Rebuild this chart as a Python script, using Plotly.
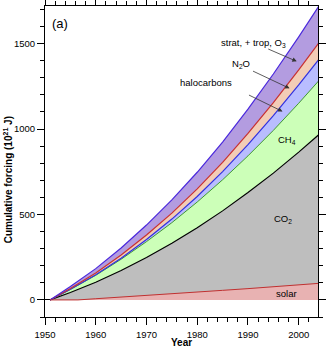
import plotly.graph_objects as go

# Cumulative forcing (10^21 J), stacked components
years = [1951, 1955, 1960, 1965, 1970, 1975, 1980, 1985, 1990, 1995, 2000, 2004]
co2 = [0, 43, 103, 172, 248, 331, 422, 521, 628, 742, 865, 968]
ch4 = [0, 18, 41, 66, 93, 121, 151, 182, 215, 250, 286, 316]
halocarbons = [0, 1, 3, 6, 12, 21, 32, 48, 66, 87, 107, 124]
n2o = [0, 5, 11, 19, 27, 35, 45, 54, 65, 76, 88, 98]
ozone = [0, 11, 25, 41, 58, 77, 97, 119, 142, 167, 193, 215]

solar_years = [1951, 1956.5, 1960, 1965, 1970, 1975, 1980, 1985, 1990, 1995, 2000, 2004]
solar = [0, 0, 7, 16, 26, 35, 45, 56, 66, 76, 87, 97]

x_ticks = [1950, 1960, 1970, 1980, 1990, 2000]
y_ticks = [0, 500, 1000, 1500]


def cumsum_layers(*layers):
    out, run = [], [0] * len(layers[0])
    for layer in layers:
        run = [a + b for a, b in zip(run, layer)]
        out.append(run)
    return out


top_co2, top_ch4, top_halo, top_n2o, top_o3 = cumsum_layers(co2, ch4, halocarbons, n2o, ozone)

fig = go.Figure()

fig.add_trace(go.Scatter(x=years, y=top_co2, mode="lines", fill="tozeroy",
                         fillcolor="#bebebe", line=dict(color="black", width=1.2)))
fig.add_trace(go.Scatter(x=years, y=top_ch4, mode="lines", fill="tonexty",
                         fillcolor="#ccffb8", line=dict(color="#3f9a2f", width=1)))
fig.add_trace(go.Scatter(x=years, y=top_halo, mode="lines", fill="tonexty",
                         fillcolor="#b9bdff", line=dict(color="#3030e0", width=1.2)))
fig.add_trace(go.Scatter(x=years, y=top_n2o, mode="lines", fill="tonexty",
                         fillcolor="#f3cdb6", line=dict(color="#c83030", width=1.2)))
fig.add_trace(go.Scatter(x=years, y=top_o3, mode="lines", fill="tonexty",
                         fillcolor="#b39ce0", line=dict(color="#4a28dc", width=1.2)))
fig.add_trace(go.Scatter(x=solar_years, y=solar, mode="lines", fill="tozeroy",
                         fillcolor="#e8b2b2", line=dict(color="#c03030", width=1)))

font = "Liberation Sans, Arial, sans-serif"

annotations = [
    dict(x=1952.9, y=1615, text="(a)", font=dict(size=13, family=font, color="black")),
    dict(x=1991.0, y=1501, text="strat, + trop, O<sub>3</sub>"),
    dict(x=1988.6, y=1379, text="N<sub>2</sub>O"),
    dict(x=1981.8, y=1273, text="halocarbons"),
    dict(x=1997.6, y=934, text="CH<sub>4</sub>"),
    dict(x=1997.0, y=471, text="CO<sub>2</sub>"),
    dict(x=1997.6, y=39, text="solar"),
]
for a in annotations:
    a.update(xref="x", yref="y", showarrow=False, xanchor="center", yanchor="middle")
    a.setdefault("font", dict(size=9.5, family=font, color="black"))

arrows = [
    ((1993.7, 1472), (1999.6, 1396)),
    ((1990.7, 1343), (1998.2, 1238)),
    ((1989.9, 1203), (1996.8, 1103)),
]
for (tx, ty), (hx, hy) in arrows:
    annotations.append(dict(x=hx, y=hy, ax=tx, ay=ty, xref="x", yref="y",
                            axref="x", ayref="y", text="", showarrow=True,
                            arrowhead=2, arrowsize=1.1, arrowwidth=0.8,
                            arrowcolor="#333333"))

# Axis titles placed in paper coordinates so the plot area keeps its size
annotations.append(dict(x=0.5, y=-0.083, xref="paper", yref="paper", showarrow=False,
                        xanchor="center", yanchor="middle",
                        text="<b>Year</b>", font=dict(size=10, family=font, color="black")))
annotations.append(dict(x=-0.135, y=0.44, xref="paper", yref="paper", showarrow=False,
                        xanchor="center", yanchor="middle", textangle=-90,
                        text="<b>Cumulative forcing (10<sup>21</sup> J)</b>",
                        font=dict(size=10, family=font, color="black")))

axis_common = dict(showline=True, linecolor="black", linewidth=1, mirror="ticks",
                   ticks="outside", ticklen=7, tickcolor="black", tickwidth=1,
                   showgrid=False, automargin=False,
                   tickfont=dict(size=9.5, family=font, color="black"))

fig.update_layout(
    width=327, height=349,
    margin=dict(l=45, r=9, t=6, b=32),
    plot_bgcolor="white", paper_bgcolor="white",
    showlegend=False,
    font=dict(family=font, color="black", size=10),
    annotations=annotations,
    xaxis=dict(range=[1950, 2003.8], tickvals=x_ticks, ticklabelstandoff=2,
               minor=dict(dtick=2, tick0=1950, ticks="outside", ticklen=4,
                          tickcolor="black", showgrid=False),
               zeroline=False, **axis_common),
    yaxis=dict(range=[-100, 1720], tickvals=y_ticks,
               minor=dict(dtick=100, tick0=0, ticks="outside", ticklen=4,
                          tickcolor="black", showgrid=False),
               zeroline=True, zerolinecolor="black", zerolinewidth=1.2,
               **axis_common),
)

fig.write_html("out.html")
